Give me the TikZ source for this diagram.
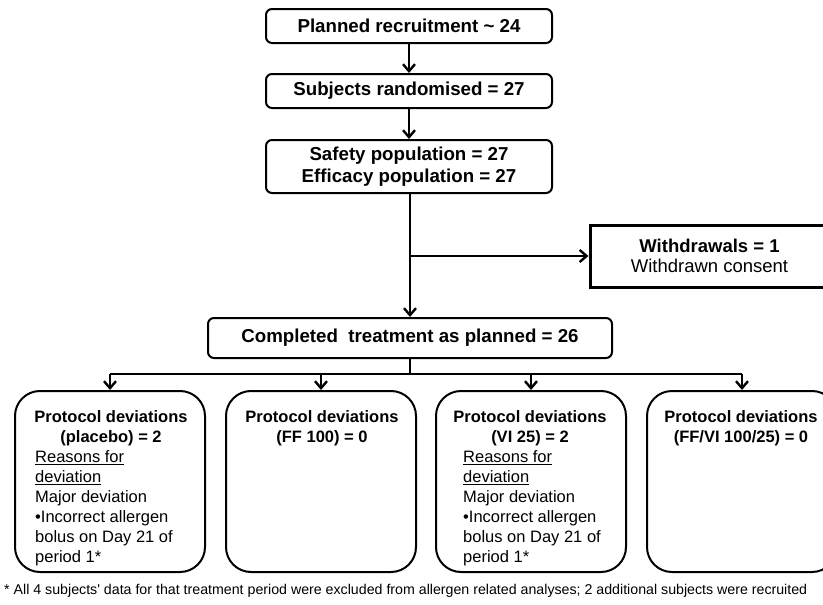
\documentclass[tikz,border=0pt]{standalone}
\usepackage{fontspec}
\setmainfont{Liberation Sans}
\usetikzlibrary{arrows.meta,calc}
\begin{document}
\begin{tikzpicture}[x=1pt,y=-1pt,
  topbox/.style={draw,line width=2pt,rounded corners=6pt,inner sep=0pt,align=center,
    font=\fontsize{18.7}{22}\selectfont\bfseries},
  devbox/.style={draw,line width=2pt,rounded corners=25pt,inner sep=0pt,
    minimum width=190pt,minimum height=181pt},
  hdr/.style={inner sep=0pt,align=center,anchor=base,font=\fontsize{16.5}{20}\selectfont\bfseries},
  body/.style={inner sep=0pt,align=left,anchor=base west,font=\fontsize{16.5}{20}\selectfont},
  conn/.style={line width=2pt},
  arr/.style={line width=2pt,-{Straight Barb[length=7pt,width=12pt,line width=2.4pt]}}]
\useasboundingbox (0,0) rectangle (823,605);
% top chain
\node[topbox,minimum width=286pt,minimum height=34pt] (b1) at (409,26) {Planned recruitment \textasciitilde{} 24};
\node[topbox,minimum width=286pt,minimum height=34pt] (b2) at (409,91) {Subjects randomised = 27};
\node[topbox,minimum width=286pt,minimum height=53pt] (b3) at (409,166.5) {Safety population = 27\\Efficacy population = 27};
\node[draw,line width=3pt,inner sep=0pt,minimum width=239pt,minimum height=62pt,align=center,
  font=\fontsize{18.5}{20.5}\selectfont] (wd) at (709.5,256) {\textbf{Withdrawals = 1}\\Withdrawn consent};
\node[topbox,minimum width=404pt,minimum height=40pt] (comp) at (410,338) {Completed\ \ treatment as planned = 26};
% bottom boxes
\node[devbox] (pa) at (110,481.5) {};
\node[devbox] (pb) at (321,481.5) {};
\node[devbox] (pc) at (531,481.5) {};
\node[devbox] (pd) at (742,481.5) {};
\node[hdr] (ha) at (111,442.5) {Protocol deviations\\(placebo) = 2};
\node[hdr] (hb) at (322,442.5) {Protocol deviations\\(FF 100) = 0};
\node[hdr] (hc) at (530,442.5) {Protocol deviations\\(VI 25) = 2};
\node[hdr] (hd) at (741,442.5) {Protocol deviations\\(FF/VI 100/25) = 0};
\node[body] (ra) at (35,562.5) {\underline{Reasons for}\\\underline{deviation}\\Major deviation\\\textbullet Incorrect allergen\\bolus on Day 21 of\\period 1*};
\node[body] (rc) at (463,562.5) {\underline{Reasons for}\\\underline{deviation}\\Major deviation\\\textbullet Incorrect allergen\\bolus on Day 21 of\\period 1*};
% footnote
\node[inner sep=0pt,anchor=base west,font=\fontsize{14.2}{16}\selectfont] (fn) at (4,594)
  {* All 4 subjects\textquotesingle{} data for that treatment period were excluded from allergen related analyses; 2 additional subjects were recruited};
% connectors
\draw[arr] (b1) -- (b2);
\draw[arr] (b2) -- (b3);
\draw[arr] (b3.south -| comp.north) -- (comp.north);
\coordinate (j1) at (comp.north |- wd.west);
\draw[arr] (j1) -- (wd.west);
\coordinate (j2) at ($(comp.south)+(0,15)$);
\draw[conn] (comp.south) -- (j2);
\draw[conn] (j2 -| pa.north) -- (j2 -| pd.north);
\draw[arr] (j2 -| pa.north) -- (pa.north);
\draw[arr] (j2 -| pb.north) -- (pb.north);
\draw[arr] (j2 -| pc.north) -- (pc.north);
\draw[arr] (j2 -| pd.north) -- (pd.north);
\end{tikzpicture}
\end{document}
